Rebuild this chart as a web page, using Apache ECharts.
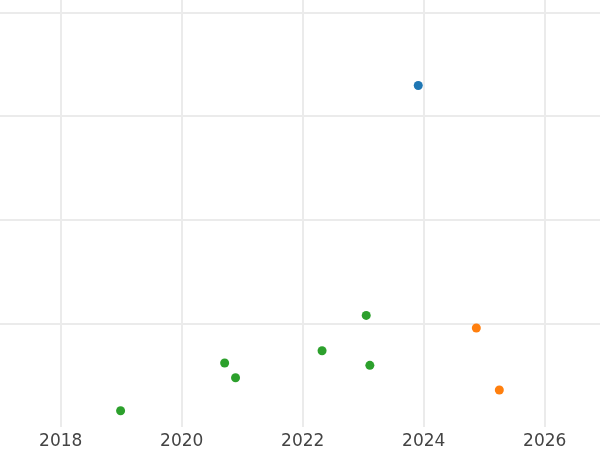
<!DOCTYPE html>
<html>
<head>
<meta charset="utf-8">
<script src="https://cdn.jsdelivr.net/npm/echarts@6/dist/echarts.min.js"></script>
<style>html,body{margin:0;padding:0;background:#fff}#c{width:600px;height:450px}</style>
</head>
<body>
<div id="c"></div>
<script>
// Data (x = year as decimal, y = unlabelled value)
const blueX = [2023.91];
const blueY = [3.295];
const orangeX = [2024.87, 2025.25];
const orangeY = [0.955, 0.357];
const greenX = [2018.99, 2020.71, 2020.89, 2022.32, 2023.05, 2023.11];
const greenY = [0.157, 0.617, 0.475, 0.736, 1.077, 0.595];
const xTicks = [2016, 2018, 2020, 2022, 2024, 2026];

function pairs(xs, ys) { return xs.map((x, i) => [x, ys[i]]); }

const G = '#ebebeb', T = 'rgba(0,0,0,0)';
const chart = echarts.init(document.getElementById('c'), null, {renderer: 'canvas'});
chart.setOption({
  animation: false,
  backgroundColor: '#ffffff',
  grid: { left: -60.3, right: 0, top: 0, bottom: 23, containLabel: false, outerBoundsMode: 'none' },
  xAxis: {
    type: 'value',
    min: xTicks[0],
    max: 2026.914,
    interval: 2,
    axisLine: { show: false },
    axisTick: { show: false },
    axisLabel: {
      color: '#444444',
      fontFamily: 'DejaVu Sans',
      fontSize: 17,
      margin: 6,
      showMinLabel: true,
      showMaxLabel: false,
      hideOverlap: false,
      formatter: v => (xTicks.indexOf(Math.round(v * 1000) / 1000) >= 0 ? String(Math.round(v)) : '')
    },
    splitLine: { show: true, lineStyle: { color: [G, G, G, G, G, G, T], width: 2 } }
  },
  yAxis: {
    type: 'value',
    min: 0,
    max: 4.12,
    interval: 1,
    axisLine: { show: false },
    axisTick: { show: false },
    axisLabel: { show: false },
    splitLine: { show: true, lineStyle: { color: [T, G, G, G, G, T], width: 2 } }
  },
  series: [
    { type: 'scatter', data: pairs(blueX, blueY), symbolSize: 9, itemStyle: { color: '#1f77b4', opacity: 1 } },
    { type: 'scatter', data: pairs(orangeX, orangeY), symbolSize: 9, itemStyle: { color: '#ff7f0e', opacity: 1 } },
    { type: 'scatter', data: pairs(greenX, greenY), symbolSize: 9, itemStyle: { color: '#2ca02c', opacity: 1 } }
  ]
});
</script>
</body>
</html>
